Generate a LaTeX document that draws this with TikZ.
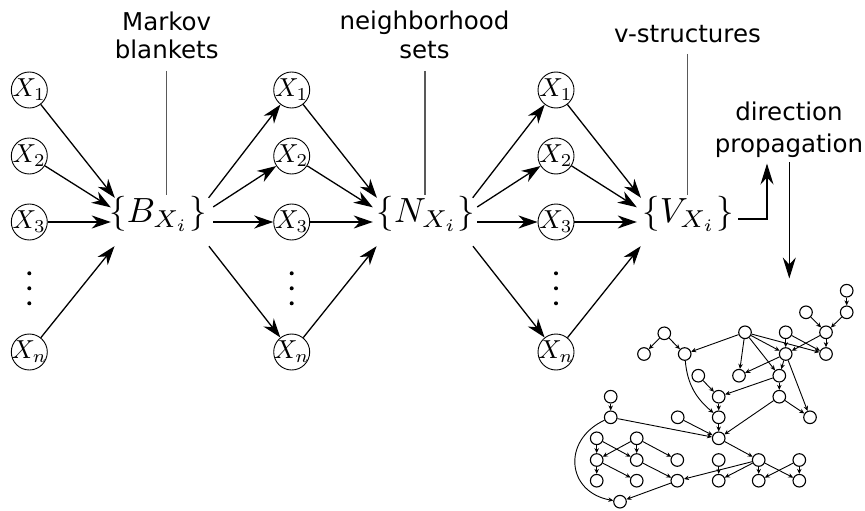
\documentclass[tikz,border=0pt]{standalone}
\usepackage{graphicx}
\usepackage{fontspec}
\newfontfamily\lblfont{DejaVu Sans}
\usetikzlibrary{arrows.meta}
\newcommand{\xlab}[1]{\makebox[0pt]{\scalebox{2.6}{$#1$}}}
\newcommand{\biglab}[1]{\scalebox{3.5}{$#1$}}
\begin{document}
\begin{tikzpicture}[x=1pt,y=1pt,
  xnode/.style={circle, draw, line width=0.9pt, minimum size=36pt, inner sep=0pt},
  big/.style={inner sep=0pt},
  hit/.style={rectangle, minimum width=46pt, minimum height=48pt, inner sep=0pt},
  gnode/.style={circle, draw, line width=1.1pt, minimum size=12.6pt, inner sep=0pt},
  arr/.style={line width=1.3pt, -{Stealth[length=19pt,width=13pt,inset=6pt]}},
  arrtwo/.style={line width=1.1pt, -{Stealth[length=21pt,width=13pt,inset=7pt]}},
  garr/.style={line width=0.9pt, -{Stealth[length=5pt,width=4.5pt]}},
  lbl/.style={font=\lblfont\fontsize{24.5}{29}\selectfont, inner sep=0pt, anchor=base},
  lline/.style={line width=1.3pt, draw=black!65},
  dotn/.style={circle, fill, inner sep=0pt, minimum size=4pt}
]
\useasboundingbox (0,0) rectangle (865,-511);

% labels
\node[lbl] (mk) at (166.7,-31) {Markov};
\node[lbl] (bl) at (166.7,-59) {blankets};
\node[lbl] (nb) at (424.5,-29.5) {neighborhood};
\node[lbl] (st) at (424.5,-59) {sets};
\node[lbl] (vs) at (687.5,-43) {v-structures};
\node[lbl] (dr) at (789,-120) {direction};
\node[lbl] (pr) at (789,-152) {propagation};

% big set nodes
\node[big] (B) at (158,-213.5) {\biglab{\{B_{X_i}\}}};
\node[big] (N) at (426,-213.5) {\biglab{\{N_{X_i}\}}};
\node[big] (V) at (688,-213.5) {\biglab{\{V_{X_i}\}}};
\node[hit] (Bin) at (134,-222) {};
\node[hit] (Bout) at (190,-222) {};
\node[hit] (Nin) at (396,-222) {};
\node[hit] (Nout) at (454,-222) {};
\node[hit] (Vin) at (660,-222) {};

% label lines
\coordinate (mkt) at (166.7,-71);
\coordinate (mkb) at (166.7,-195);
\coordinate (nbt) at (425,-71);
\coordinate (nbb) at (425,-195);
\coordinate (vst) at (687.3,-54);
\coordinate (vsb) at (687.3,-195);
\draw[lline] (mkt) -- (mkb);
\draw[lline] (nbt) -- (nbb);
\draw[lline] (vst) -- (vsb);

% variable columns
\foreach \c/\x in {L/29.3, M/291.7, R/556} {
  \node[xnode] (\c1) at (\x,-90) {\xlab{X_1}};
  \node[xnode] (\c2) at (\x,-156) {\xlab{X_2}};
  \node[xnode] (\c3) at (\x,-222) {\xlab{X_3}};
  \node[xnode] (\c n) at (\x,-352) {\xlab{X_n}};
  \node[dotn] (\c d1) at (\x,-273.3) {};
  \node[dotn] (\c d2) at (\x,-288.3) {};
  \node[dotn] (\c d3) at (\x,-303.3) {};
}

\foreach \k in {1,2,3,n} {
  \draw[arr] (L\k) -- (Bin);
  \draw[arr] (Bout) -- (M\k);
  \draw[arr] (M\k) -- (Nin);
  \draw[arr] (Nout) -- (R\k);
  \draw[arr] (R\k) -- (Vin);
}

% direction propagation arrows
\coordinate (vo) at (738,-219);
\coordinate (vtip) at (767,-163.5);
\draw[arrtwo] (vo) -| (vtip);
\coordinate (dtop) at (789.3,-162);
\coordinate (dbot) at (789.3,-278.5);
\draw[arrtwo] (dtop) -- (dbot);

% small graph
\foreach \n/\x/\y in {A/846.7/290.7, B/846.7/312.3, C/806/312.3, D/826/332.3,
  E/664.3/333.3, F/745/332.3, G/785.7/332.3, H/644/354, I/684.7/354,
  J/785.7/354, K/826/354, L/698.3/375.7, M/739/375.7, N/779.3/375.7,
  O/718.7/396.7, P/779.3/396.7, Q/610.7/396.7, R/610.7/417.3, S/677.7/417.3,
  T/718.7/417.3, U/810/417.3, V/718.7/438.3, W/596.7/438.3, X/636.7/438.3,
  Y/596.7/460, Z/636.7/460, AA/677.3/460, AB/718.7/460, AC/758.7/460,
  AD/799.3/460, AE/596.7/480.7, AF/636.7/480.7, AG/677.3/480.7,
  AH/718.7/480.7, AI/758.7/480.7, AJ/799.3/480.7, AK/620/501.7} {
  \node[gnode] (g\n) at (\x,-\y) {};
}
\foreach \a/\b in {A/B, C/D, B/D, D/K, D/J, G/J, G/K, F/I, F/M, F/J, F/K, F/N,
  E/H, E/I, J/M, J/N, J/U, N/P, L/O, N/O, O/T, T/V, S/V, R/V, P/V, P/U,
  Q/R, W/Y, W/Z, X/Y, X/Z, X/AA, Y/AE, Y/AF, Z/AG, AG/AK, V/AC, AC/AG,
  AC/AH, AB/AH, AC/AI, AC/AJ, AD/AI, AD/AJ} {
  \draw[garr] (g\a) -- (g\b);
}
\draw[garr] (gI) to[out=-85, in=140] (gT);
\draw[garr] (gR) to[out=205, in=170, looseness=1.5] (gAK);
\end{tikzpicture}
\end{document}
